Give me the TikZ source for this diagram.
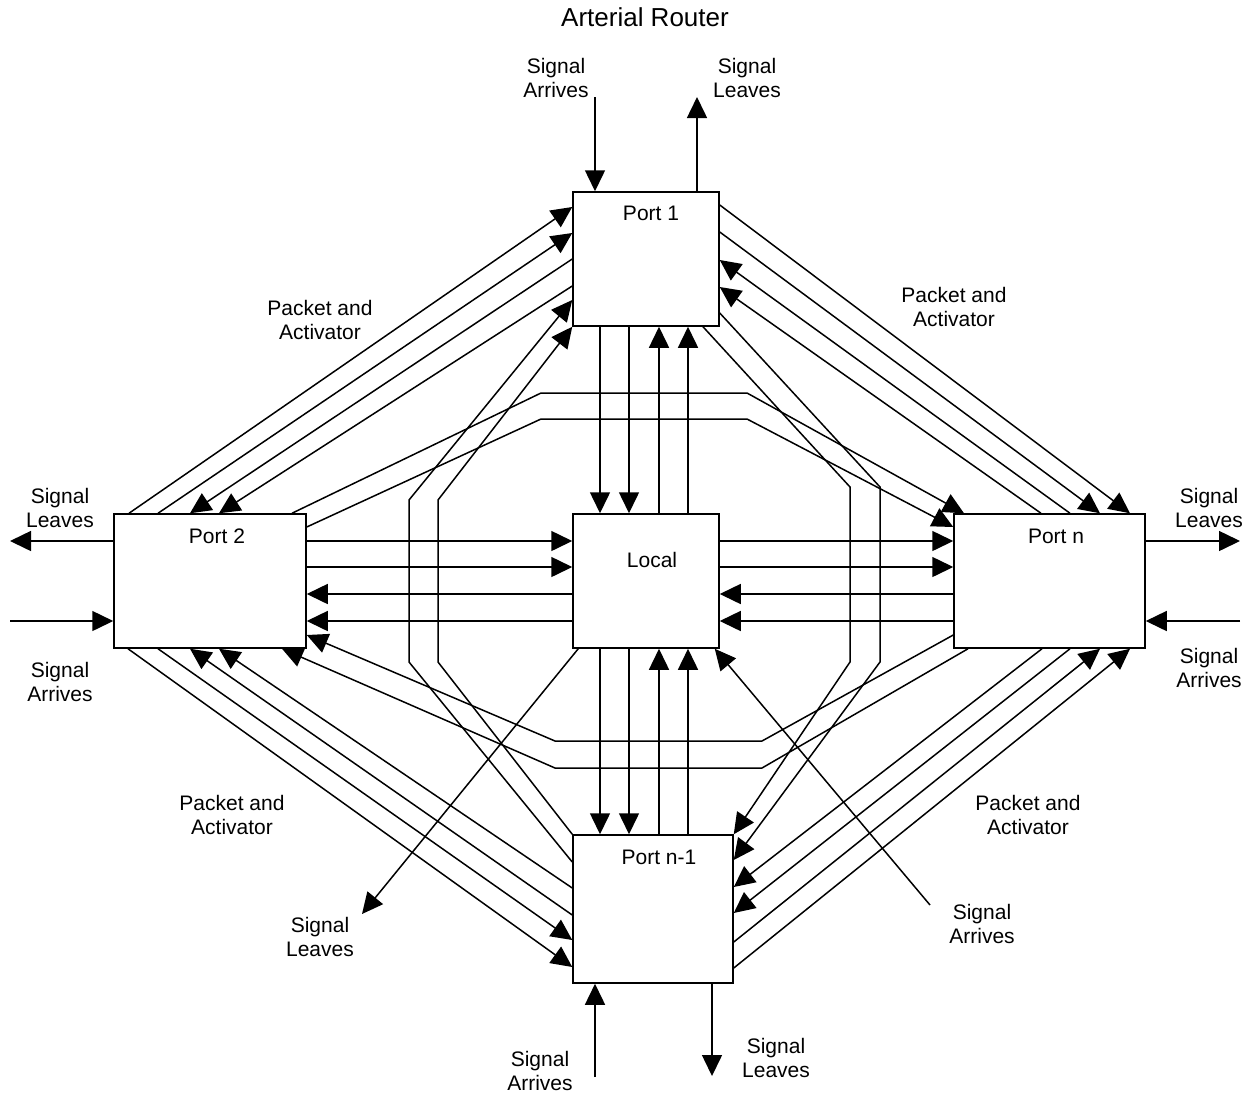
\documentclass[tikz,border=0pt]{standalone}
\usepackage{fontspec}
\setmainfont{Liberation Sans}
\usetikzlibrary{arrows.meta}
\begin{document}
\begin{tikzpicture}[x=1pt,y=-1pt,
  wire/.style={line width=1.5pt},
  arr/.style={wire,-{Triangle[length=21pt,width=20pt]}},
  box/.style={draw,line width=1.5pt,inner sep=0pt},
  txt/.style={font=\fontsize{21}{24.5}\selectfont,align=center,inner sep=0pt},
]
\useasboundingbox (0,0) rectangle (1246,1095);

% ---- boxes ----
\node[box,minimum width=146pt,minimum height=134pt] (p1)  at (646,259)    {};
\node[box,minimum width=192pt,minimum height=134pt] (p2)  at (210,581)    {};
\node[box,minimum width=146pt,minimum height=134pt] (loc) at (646,581)    {};
\node[box,minimum width=191pt,minimum height=134pt] (pn)  at (1049.5,581) {};
\node[box,minimum width=160pt,minimum height=148pt] (pn1) at (653,909)    {};

\node[txt] (t1)  at (651,213)  {Port 1};
\node[txt] (t2)  at (217,536)  {Port 2};
\node[txt] (tl)  at (652,560)  {Local};
\node[txt] (tn)  at (1056,536) {Port n};
\node[txt] (tn1) at (659,857)  {Port n-1};

\node[txt,font=\fontsize{26}{30}\selectfont] (title) at (645,17) {Arterial Router};

% ---- external signal ends ----
\coordinate (sa1)  at (595,97);
\coordinate (sl1)  at (697,97);
\coordinate (sl2)  at (10,541);
\coordinate (sa2)  at (10,621);
\coordinate (sln)  at (1240,541);
\coordinate (san)  at (1240,621);
\coordinate (san1) at (595,1077);
\coordinate (sln1) at (712,1076);
\coordinate (sll)  at (362,914);
\coordinate (sal)  at (930,905);

\draw[arr] (sa1) -- (sa1 |- p1.north);
\draw[arr] (sl1 |- p1.north) -- (sl1);
\draw[arr] (sl2 -| p2.west) -- (sl2);
\draw[arr] (sa2) -- (sa2 -| p2.west);
\draw[arr] (sln -| pn.east) -- (sln);
\draw[arr] (san) -- (san -| pn.east);
\draw[arr] (san1) -- (san1 |- pn1.south);
\draw[arr] (sln1 |- pn1.south) -- (sln1);
\draw[arr] ([xshift=6pt]loc.south west) -- (sll);
\draw[arr] (sal) -- ([xshift=-5pt]loc.south east);

\node[txt] (lsa1)  at (556,78)   {Signal\\Arrives};
\node[txt] (lsl1)  at (747,78)   {Signal\\Leaves};
\node[txt] (lsl2)  at (60,508)   {Signal\\Leaves};
\node[txt] (lsa2)  at (60,682)   {Signal\\Arrives};
\node[txt] (lsln)  at (1209,508) {Signal\\Leaves};
\node[txt] (lsan)  at (1209,668) {Signal\\Arrives};
\node[txt] (lsan1) at (540,1071) {Signal\\Arrives};
\node[txt] (lsln1) at (776,1058) {Signal\\Leaves};
\node[txt] (lsll)  at (320,937)  {Signal\\Leaves};
\node[txt] (lsal)  at (982,924)  {Signal\\Arrives};

\node[txt] (pa1) at (320,320)  {Packet and\\Activator};
\node[txt] (pa2) at (954,307)  {Packet and\\Activator};
\node[txt] (pa3) at (232,815)  {Packet and\\Activator};
\node[txt] (pa4) at (1028,815) {Packet and\\Activator};

% ---- Port 2 <-> Local <-> Port n ----
\foreach \y in {541,567} \draw[arr] (p2.east |- 0,\y) -- (loc.west |- 0,\y);
\foreach \y in {594,621} \draw[arr] (loc.west |- 0,\y) -- (p2.east |- 0,\y);
\foreach \y in {541,567} \draw[arr] (loc.east |- 0,\y) -- (pn.west |- 0,\y);
\foreach \y in {594,621} \draw[arr] (pn.west |- 0,\y) -- (loc.east |- 0,\y);

% ---- Port 1 <-> Local <-> Port n-1 ----
\foreach \x in {600,629} \draw[arr] (p1.south -| \x,0) -- (loc.north -| \x,0);
\foreach \x in {659,688} \draw[arr] (loc.north -| \x,0) -- (p1.south -| \x,0);
\foreach \x in {600,629} \draw[arr] (loc.south -| \x,0) -- (pn1.north -| \x,0);
\foreach \x in {659,688} \draw[arr] (pn1.north -| \x,0) -- (loc.south -| \x,0);

% ---- Port 2 <-> Port 1 ----
\draw[arr] (p2.north -| 129,0) -- (p1.west |- 0,207);
\draw[arr] (p2.north -| 158,0) -- (p1.west |- 0,233);
\draw[arr] (p1.west |- 0,259) -- (p2.north -| 190,0);
\draw[arr] (p1.west |- 0,286) -- (p2.north -| 219,0);

% ---- Port 1 <-> Port n ----
\draw[arr] (p1.east |- 0,205) -- (pn.north -| 1130,0);
\draw[arr] (p1.east |- 0,232) -- (pn.north -| 1100,0);
\draw[arr] (pn.north -| 1070,0) -- (p1.east |- 0,260);
\draw[arr] (pn.north -| 1041,0) -- (p1.east |- 0,287);

% ---- Port 2 <-> Port n-1 ----
\draw[arr] (p2.south -| 128,0) -- (pn1.west |- 0,967);
\draw[arr] (p2.south -| 158,0) -- (pn1.west |- 0,940);
\draw[arr] (pn1.west |- 0,915) -- (p2.south -| 190,0);
\draw[arr] (pn1.west |- 0,888) -- (p2.south -| 219,0);

% ---- Port n <-> Port n-1 ----
\draw[arr] (pn1.east |- 0,968) -- (pn.south -| 1130,0);
\draw[arr] (pn1.east |- 0,942) -- (pn.south -| 1100,0);
\draw[arr] (pn.south -| 1070,0) -- (pn1.east |- 0,913);
\draw[arr] (pn.south -| 1042,0) -- (pn1.east |- 0,887);

% ---- Port n-1 -> Port 1, left bypass ----
\draw[arr] (pn1.west |- 0,862) -- (409,662) -- (409,500) -- (p1.west |- 0,300);
\draw[arr] (pn1.north west) -- (438,662) -- (438,500) -- (p1.south west);

% ---- Port 1 -> Port n-1, right bypass ----
\draw[arr] (p1.east |- 0,313) -- (880,487) -- (880,662) -- (pn1.east |- 0,860);
\draw[arr] (p1.south -| 703,0) -- (850,487) -- (850,662) -- (pn1.north east);

% ---- Port 2 -> Port n, over the top ----
\draw[arr] (p2.north -| 292,0) -- (541,393) -- (747,393) -- (pn.north -| 964,0);
\draw[arr] (p2.east |- 0,527) -- (541,419) -- (747,419) -- (pn.west |- 0,527);

% ---- Port n -> Port 2, underneath ----
\draw[arr] (pn.west |- 0,635) -- (762,741) -- (555,741) -- (p2.east |- 0,635);
\draw[arr] (pn.south -| 968,0) -- (762,768) -- (555,768) -- (p2.south -| 282,0);
\end{tikzpicture}
\end{document}
